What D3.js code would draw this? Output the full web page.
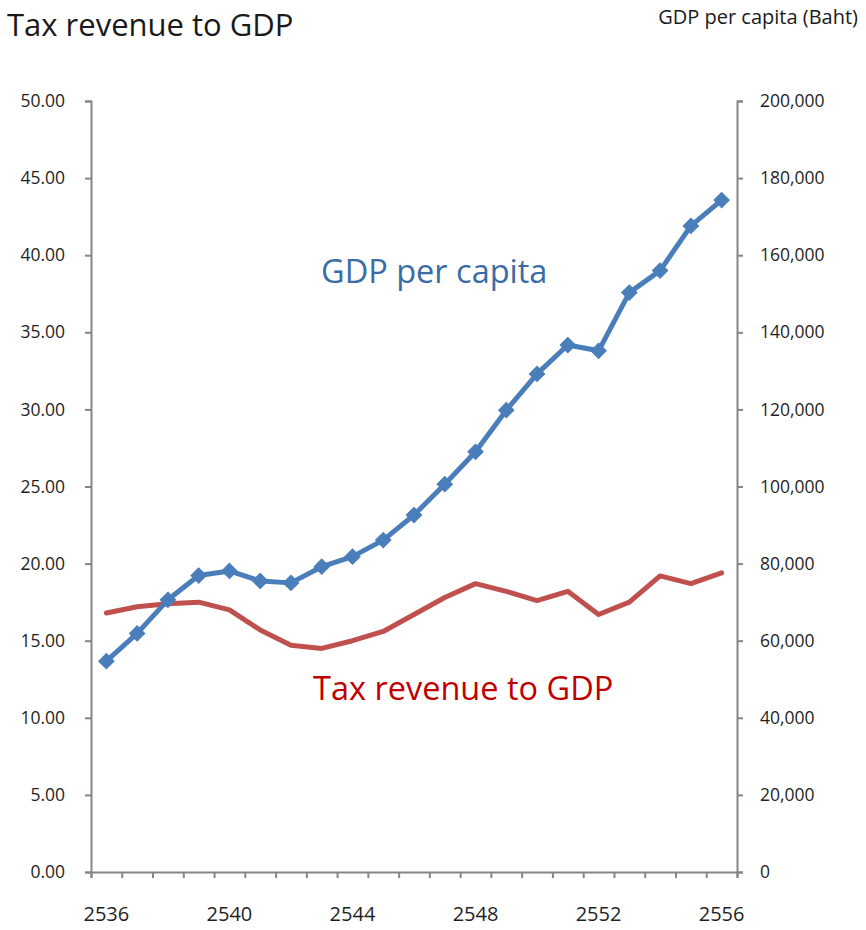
<!DOCTYPE html>
<html>
<head>
<meta charset="utf-8">
<script src="https://cdn.jsdelivr.net/npm/d3@7"></script>
<style>
  html, body { margin: 0; padding: 0; background: #fff; }
  svg text { font-family: "Open Sans", "Noto Sans", sans-serif; }
</style>
</head>
<body>
<svg id="chart" width="866" height="930"></svg>
<script>
// Buddhist-era years on the category axis
const years = [2536, 2537, 2538, 2539, 2540, 2541, 2542, 2543, 2544, 2545, 2546,
               2547, 2548, 2549, 2550, 2551, 2552, 2553, 2554, 2555, 2556];

// Tax revenue as a percentage of GDP (left axis)
const taxRevenue = [16.8, 17.2, 17.4, 17.5, 17.0, 15.7, 14.7, 14.5, 15.0, 15.6, 16.7,
                    17.8, 18.7, 18.2, 17.6, 18.2, 16.7, 17.5, 19.2, 18.7, 19.4];

// GDP per capita in Baht (right axis)
const gdpPerCapita = [54700, 61900, 70600, 76900, 78100, 75500, 75000, 79200, 81800, 86100, 92600,
                      100600, 109000, 119800, 129200, 136700, 135200, 150300, 156000, 167600, 174300];

const leftTicks = [0, 5, 10, 15, 20, 25, 30, 35, 40, 45, 50];
const rightTicks = [0, 20000, 40000, 60000, 80000, 100000, 120000, 140000, 160000, 180000, 200000];
const labelledYears = [2536, 2540, 2544, 2548, 2552, 2556];

const svg = d3.select("#chart");
const plot = { left: 91, right: 737, top: 101, bottom: 872 };

const axisColor = "#868686";
const textColor = "#1f1f1f";
const blue = "#4a7ebb";
const red = "#c0504d";

// Category axis: one band per year, ticks on band edges
const x = d3.scaleBand().domain(years).range([plot.left, plot.right]).paddingInner(0).paddingOuter(0);
const xc = d => x(d) + x.bandwidth() / 2;

const yLeft = d3.scaleLinear().domain([0, 50]).range([plot.bottom, plot.top]);
const yRight = d3.scaleLinear().domain([0, 200000]).range([plot.bottom, plot.top]);

// Left axis
const leftAxis = svg.append("g")
  .attr("transform", `translate(${plot.left},0)`)
  .call(d3.axisLeft(yLeft).tickValues(leftTicks).tickFormat(d3.format(".2f")).tickSize(6).tickPadding(20));

// Right axis
const rightAxis = svg.append("g")
  .attr("transform", `translate(${plot.right},0)`)
  .call(d3.axisRight(yRight).tickValues(rightTicks).tickFormat(d3.format(",")).tickSize(6).tickPadding(17));

// Bottom axis: tick marks on band boundaries, labels every fourth year
const xEdge = d3.scaleLinear().domain([0, years.length]).range([plot.left, plot.right]);
const bottomAxis = svg.append("g")
  .attr("transform", `translate(0,${plot.bottom})`)
  .call(d3.axisBottom(xEdge).tickValues(d3.range(0, years.length + 1)).tickFormat("").tickSize(6));

svg.append("g")
  .selectAll("text")
  .data(labelledYears)
  .join("text")
  .attr("x", d => xc(d))
  .attr("y", plot.bottom + 49)
  .attr("text-anchor", "middle")
  .attr("font-size", 20)
  .attr("fill", textColor)
  .text(d => d);

[leftAxis, rightAxis, bottomAxis].forEach(g => {
  g.select(".domain").attr("stroke", axisColor).attr("stroke-width", 2);
  g.selectAll(".tick line").attr("stroke", axisColor).attr("stroke-width", 2);
  g.selectAll(".tick text").attr("font-size", 17.5).attr("fill", textColor)
    .attr("font-family", "'Open Sans', 'Noto Sans', sans-serif");
});

// Tax revenue line
svg.append("path")
  .datum(taxRevenue)
  .attr("fill", "none")
  .attr("stroke", red)
  .attr("stroke-width", 5)
  .attr("stroke-linejoin", "round")
  .attr("stroke-linecap", "round")
  .attr("d", d3.line().x((d, i) => xc(years[i])).y(d => yLeft(d)));

// GDP per capita line with diamond markers
svg.append("path")
  .datum(gdpPerCapita)
  .attr("fill", "none")
  .attr("stroke", blue)
  .attr("stroke-width", 5)
  .attr("stroke-linejoin", "round")
  .attr("d", d3.line().x((d, i) => xc(years[i])).y(d => yRight(d)));

const diamond = d3.symbol().type(d3.symbolSquare).size(118);
svg.append("g")
  .selectAll("path")
  .data(gdpPerCapita)
  .join("path")
  .attr("d", diamond)
  .attr("transform", (d, i) => `translate(${xc(years[i])},${yRight(d)}) rotate(45)`)
  .attr("fill", blue)
  .attr("stroke", blue)
  .attr("stroke-width", 1);

// Titles
svg.append("text")
  .attr("x", 7).attr("y", 36)
  .attr("font-size", 31)
  .attr("fill", "#1a1a1a")
  .text("Tax revenue to GDP");

svg.append("text")
  .attr("x", 858).attr("y", 24)
  .attr("text-anchor", "end")
  .attr("font-size", 20)
  .attr("fill", "#1a1a1a")
  .text("GDP per capita (Baht)");

// Series labels
svg.append("text")
  .attr("x", 321).attr("y", 283)
  .attr("font-size", 32.5)
  .attr("fill", "#3a6ca5")
  .text("GDP per capita");

svg.append("text")
  .attr("x", 313).attr("y", 700)
  .attr("font-size", 32.5)
  .attr("fill", "#c00000")
  .text("Tax revenue to GDP");
</script>
</body>
</html>
